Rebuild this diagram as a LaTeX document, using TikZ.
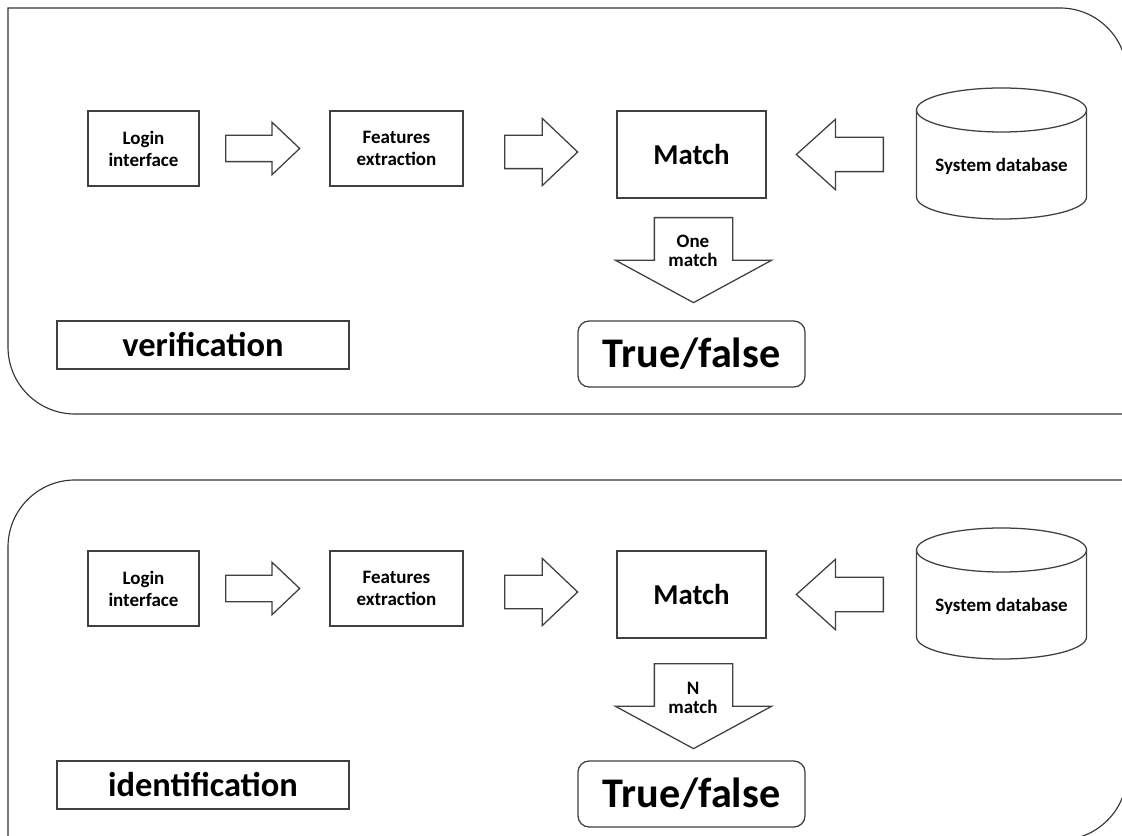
\documentclass[tikz,border=0pt]{standalone}
\usepackage{fontspec}
\setmainfont{Carlito}
\usepackage{tikz}
\usetikzlibrary{calc, shapes.geometric, shapes.arrows, positioning}

\begin{document}
\begin{tikzpicture}[x=0.025cm, y=0.025cm,
    outline/.style={draw=black!75, line width=0.9pt},
    box/.style={outline, fill=white, align=center, font=\fontsize{13.5}{15.6}\selectfont\bfseries},
    inbox/.style={box, minimum width=2.775cm, minimum height=1.875cm},
    featbox/.style={box, minimum width=3.325cm, minimum height=1.875cm},
    matchbox/.style={box, minimum width=3.725cm, minimum height=2.175cm, font=\fontsize{20.5}{24}\selectfont\bfseries},
    result/.style={box, rounded corners=0.28cm, minimum width=5.675cm, minimum height=1.65cm, font=\fontsize{30}{34}\selectfont\bfseries},
    modebox/.style={box, minimum width=7.3cm, minimum height=1.2cm, font=\fontsize{24.5}{28}\selectfont\bfseries},
    blockarrow/.style={single arrow, outline, fill=white, inner xsep=0pt, anchor=tail},
    smallarrow/.style={blockarrow, minimum height=1.85cm, inner ysep=0.3125cm, single arrow head extend=0.325cm, single arrow tip angle=87},
    midarrow/.style={blockarrow, minimum height=1.825cm, inner ysep=0.4cm, single arrow head extend=0.425cm, single arrow tip angle=87},
    backarrow/.style={blockarrow, shape border rotate=180, minimum height=2.175cm, inner ysep=0.4125cm, single arrow head extend=0.45cm, single arrow tip angle=84},
    downarrow/.style={blockarrow, shape border rotate=270, minimum height=2.125cm, inner ysep=0pt, inner xsep=0.9625cm, single arrow head extend=0.975cm, single arrow tip angle=123},
    arrowtext/.style={align=center, font=\fontsize{13.5}{13.5}\selectfont\bfseries},
    panel/.style={draw=black!80, line width=0.8pt}
]
    \useasboundingbox (0,0) rectangle (1122,835);
    \clip (0,0) rectangle (1122,835);

    % panels
    \draw[panel] (8,488) -- (8,827) -- (1060,827) arc[start angle=90, end angle=0, radius=67]
        -- (1127,421) -- (75,421) arc[start angle=270, end angle=180, radius=67] -- cycle;
    \draw[panel] (8,-5) -- (8,288) arc[start angle=180, end angle=90, radius=67]
        -- (1127,355) -- (1127,62) arc[start angle=0, end angle=-90, radius=67] -- cycle;

    % verification
    \node[inbox] (login1) at (143.5,686.5) {Login\\interface};
    \node[smallarrow] (a1) at (225,686.5) {};
    \node[featbox] (feat1) at (396.5,686.5) {Features\\extraction};
    \node[midarrow] (a2) at (504,683) {};
    \node[matchbox] (match1) at (691.5,680.5) {Match};
    \node[backarrow] (a3) at (884,680.5) {};
    \node[box, draw=none, fill=none] (db1) at (1001.5,669) {System database};
    \draw[outline, shift={(db1.center)}] (-85,56) -- (-85,-31)
        arc[start angle=180, end angle=360, x radius=85, y radius=22] -- (85,56);
    \draw[outline, shift={(db1.center)}] (0,56) ellipse[x radius=85, y radius=22];
    \node[downarrow] (a4) at (693.5,618) {};
    \node[arrowtext] (t1) at (693,584) {One\\match};
    \node[result] (res1) at (691.5,481) {True/false};
    \node[modebox] (mode1) at (203,490) {verification};

    % identification
    \node[inbox] (login2) at (143.5,246.5) {Login\\interface};
    \node[smallarrow] (b1) at (225,246.5) {};
    \node[featbox] (feat2) at (396.5,246.5) {Features\\extraction};
    \node[midarrow] (b2) at (504,243) {};
    \node[matchbox] (match2) at (691.5,240.5) {Match};
    \node[backarrow] (b3) at (884,240.5) {};
    \node[box, draw=none, fill=none] (db2) at (1001.5,229) {System database};
    \draw[outline, shift={(db2.center)}] (-85,56) -- (-85,-31)
        arc[start angle=180, end angle=360, x radius=85, y radius=22] -- (85,56);
    \draw[outline, shift={(db2.center)}] (0,56) ellipse[x radius=85, y radius=22];
    \node[downarrow] (b4) at (693.5,172) {};
    \node[arrowtext] (t2) at (693,137) {N\\match};
    \node[result] (res2) at (691.5,41) {True/false};
    \node[modebox] (mode2) at (203,50) {identification};
\end{tikzpicture}
\end{document}
